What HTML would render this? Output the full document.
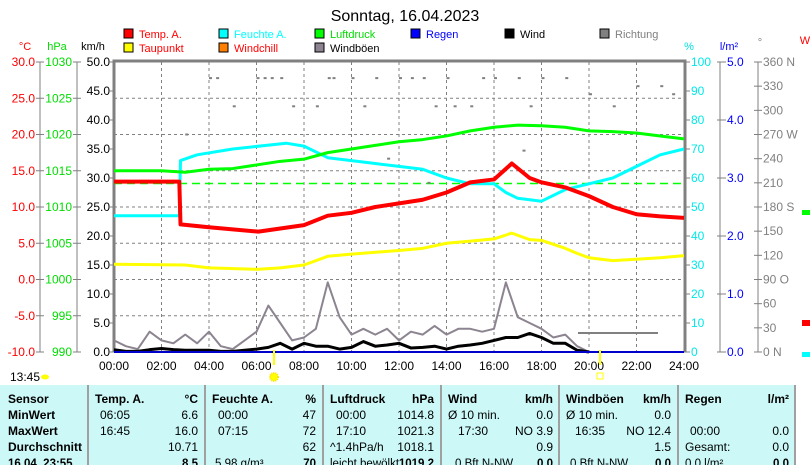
<!DOCTYPE html>
<html><head><meta charset="utf-8"><style>
body{margin:0;width:810px;height:465px;overflow:hidden;background:#fff;font-family:"Liberation Sans",sans-serif}
svg text{font-family:"Liberation Sans",sans-serif}
</style></head><body>
<svg id="c" width="810" height="465" viewBox="0 0 810 465" xmlns="http://www.w3.org/2000/svg">
<text x="405" y="21" text-anchor="middle" font-size="16">Sonntag, 16.04.2023</text>
<g id="legend"></g>
<g id="axes"></g>
<g id="grid"></g>
<g id="series"></g>
<g id="table"></g>
</svg>
<script>
const hours=[0,2.75,2.8,4,6.08,8,9,10,11,12,13,14,15,16,16.75,17.5,18,19,20,21,22,23,24];
const temp=[13.5,13.5,7.6,7.2,6.6,7.5,8.8,9.2,10,10.5,11,12,13.4,13.8,16,14,13.4,12.7,11.5,10,9,8.7,8.5];
const dewHours=[0,3,4,6,7,8,9,10,12,13,14,15,16,16.75,17.5,18,19,19.5,20,21,22,23,24];
const dew=[2.1,2,1.6,1.4,1.6,2,3.2,3.5,4,4.3,5,5.3,5.6,6.4,5.5,5.4,4.3,3.6,3,2.6,2.8,3,3.3];
const humHours=[0,2.75,2.8,3.5,5,7.25,8,9,10,11,12,13,14,15,16,16.5,17,18,19,20,21,22,23,24];
const hum=[47,47,66,68,70,72,71,67,66,65,64,63,60,58,58,55,53,52,56,58,60,64,68,70];
const presHours=[0,2,3,4,5,6,7,8,9,10,11,12,13,14,15,16,17,18,19,20,21,22,23,24];
const pres=[1015,1015,1014.8,1015.2,1015.3,1015.8,1016.3,1016.6,1017.5,1018,1018.5,1019,1019.3,1019.8,1020.5,1021,1021.3,1021.2,1021,1020.5,1020.4,1020.2,1019.8,1019.4];
const windHours=[0,0.5,1,1.5,2,2.5,3,3.5,4,4.5,5,5.5,6,6.5,7,7.5,8,8.5,9,9.5,10,10.5,11,11.5,12,12.5,13,13.5,14,14.5,15,15.5,16,16.5,17,17.5,18,18.5,19,19.5,20];
const gust=[2,1,0.5,3.5,2,1.5,3,1.5,3.5,1,0.5,2,3.5,8,5,2,2.5,4,12,6,3,4,3,4,2,3.5,3,4.5,3,4,4,3.5,4,12,6,5,4,2.5,3,1,0];
const wind=[0.4,0.1,0.1,0.4,0.6,0.4,0.3,0.3,0.3,0.1,0.1,0.3,0.5,0.8,1.5,0.5,1.5,1,1,0.5,0.8,1.8,1,1.2,1.5,0.7,0.8,1,0.5,1,1.2,1.5,2,2.5,2.5,3.2,2.5,1.5,1.5,0.3,0];
const dirHours=[4,4.3,6,6.3,6.6,7,7.5,8.5,9,9.2,10,10.5,11,12,12.5,13,13.5,14,14.3,15,15.5,16,17,17.5,18,19,20,21,22,23,23.5,3,5,11.5,13.2,15.2,17.2];
const dirDeg=[340,340,340,340,340,340,305,305,340,340,340,305,340,340,340,340,305,340,305,305,340,340,340,305,340,340,320,305,330,330,320,270,305,240,210,210,250];
const yTempTicks=["30.0","25.0","20.0","15.0","10.0","5.0","0.0","-5.0","-10.0"];
const yPresTicks=["1030","1025","1020","1015","1010","1005","1000","995","990"];
const yKmhTicks=["50.0","45.0","40.0","35.0","30.0","25.0","20.0","15.0","10.0","5.0","0.0"];
const yHumTicks=["100","90","80","70","60","50","40","30","20","10","0"];
const yRainTicks=["5.0","4.0","3.0","2.0","1.0","0.0"];
const yDirTicks=["360 N","330","300","270 W","240","210","180 S","150","120","90  O","60","30","0  N"];
const xTicks=["00:00","02:00","04:00","06:00","08:00","10:00","12:00","14:00","16:00","18:00","20:00","22:00","24:00"];

const X0=114,X1=684,Y0=62,Y1=352;
const xs=h=>X0+(X1-X0)*h/24;
const yT=v=>Y1-(v+10)/40*(Y1-Y0);
const yP=v=>Y1-(v-990)/40*(Y1-Y0);
const yK=v=>Y1-v/50*(Y1-Y0);
const yH=v=>Y1-v/100*(Y1-Y0);
const yD=v=>Y1-v/360*(Y1-Y0);
const NS="http://www.w3.org/2000/svg";
function mk(parent,tag,attrs,txt){const e=document.createElementNS(NS,tag);for(const k in attrs)e.setAttribute(k,attrs[k]);if(txt!=null)e.textContent=txt;document.getElementById(parent).appendChild(e);return e;}

const leg=[["Temp. A.","#ff0000","#ff0000",124,38],["Feuchte A.","#00ffff","#00ffff",219,38],["Luftdruck","#00ff00","#00dd00",315,38],["Regen","#0000ff","#0000ff",411,38],["Wind","#000","#000",505,38],["Richtung","#808080","#808080",600,38],["Taupunkt","#ffff00","#ff0000",124,52],["Windchill","#ff8000","#ff0000",219,52],["Windböen","#8c8490","#000",315,52]];
leg.forEach(l=>{
 const r=mk("legend","rect",{x:l[3],y:l[4]-9,width:9,height:9,fill:l[1],stroke:"#000","stroke-width":1});
 
 
 const t=mk("legend","text",{x:l[3]+15,y:l[4],"font-size":11,fill:l[2]},l[0]);
 
 
});
[["°C",25,50,"#ff0000"],["hPa",57,50,"#00dd00"],["km/h",93,50,"#000"],["%",689,50,"#00e0e0"],["l/m²",729,50,"#0000ff"],["°",760,46,"#808080"],["W",805,44,"#ff0000"]].forEach(h=>{
 const t=mk("axes","text",{x:h[1],y:h[2],"font-size":11,"text-anchor":"middle",fill:h[3]},h[0]);
 
 
});
mk("axes","line",{x1:40,y1:Y0,x2:40,y2:Y1,stroke:"#808080"});
mk("axes","line",{x1:77,y1:Y0,x2:77,y2:Y1,stroke:"#808080"});
yTempTicks.forEach((t,i)=>{const y=Y0+i*(Y1-Y0)/8;
 mk("axes","line",{x1:36,y1:y,x2:44,y2:y,stroke:"#808080"});
 const a=mk("axes","text",{x:35,y:y+4,"font-size":12,"text-anchor":"end",fill:"#ff0000"},t);
 
 
 mk("axes","line",{x1:73,y1:y,x2:81,y2:y,stroke:"#808080"});
 const b=mk("axes","text",{x:72,y:y+4,"font-size":12,"text-anchor":"end",fill:"#00dd00"},yPresTicks[i]);
 
 
});
yKmhTicks.forEach((t,i)=>{const y=Y0+i*(Y1-Y0)/10;
 mk("axes","line",{x1:110,y1:y,x2:114,y2:y,stroke:"#808080"});
 const a=mk("axes","text",{x:110,y:y+4,"font-size":12,"text-anchor":"end",fill:"#000"},t);
 
 
});
mk("axes","line",{x1:720,y1:Y0,x2:720,y2:Y1,stroke:"#808080"});
mk("axes","line",{x1:758,y1:Y0,x2:758,y2:Y1,stroke:"#808080"});
yHumTicks.forEach((t,i)=>{const y=Y0+i*(Y1-Y0)/10;
 mk("axes","line",{x1:684,y1:y,x2:690,y2:y,stroke:"#808080"});
 const a=mk("axes","text",{x:691,y:y+4,"font-size":12,fill:"#00e8e8"},t);
 
 
});
yRainTicks.forEach((t,i)=>{const y=Y0+i*(Y1-Y0)/5;
 mk("axes","line",{x1:717,y1:y,x2:726,y2:y,stroke:"#808080"});
 const a=mk("axes","text",{x:727,y:y+4,"font-size":12,fill:"#0000ff"},t);
 
 
});
yDirTicks.forEach((t,i)=>{const y=Y0+i*(Y1-Y0)/12;
 mk("axes","line",{x1:754,y1:y,x2:762,y2:y,stroke:"#808080"});
 const a=mk("axes","text",{x:763,y:y+4,"font-size":12,fill:"#808080","xml:space":"preserve"},t);
 
 
});
xTicks.forEach((t,i)=>{const x=xs(i*2);
 const a=mk("axes","text",{x:x,y:370,"font-size":12,"text-anchor":"middle",fill:"#000"},t);
 
 
});
for(let i=1;i<12;i++){mk("grid","line",{x1:xs(i*2),y1:Y0,x2:xs(i*2),y2:Y1,stroke:"#808080","stroke-dasharray":"3,3"});}
for(let i=1;i<8;i++){const y=Y0+i*(Y1-Y0)/8;mk("grid","line",{x1:X0,y1:y,x2:X1,y2:y,stroke:"#808080","stroke-dasharray":"3,3"});}
mk("grid","path",{d:`M${X0} ${Y1} V${Y0-1} H${X1+1} V${Y1}`,fill:"none",stroke:"#808080","stroke-width":3});
const sp=mk("series","line",{x1:X0,y1:yP(1013.25),x2:X1,y2:yP(1013.25),stroke:"#00ff00","stroke-width":1.5,"stroke-dasharray":"8,5"});


dirHours.forEach((h,i)=>{const d=mk("series","rect",{x:xs(h),y:yD(dirDeg[i])-1,width:3,height:2,fill:"#808080"});
 
 });
mk("series","line",{x1:578,y1:333,x2:658,y2:333,stroke:"#808080","stroke-width":2});
function poly(hs,vs,yf,color,w,name){
 const p=mk("series","polyline",{points:hs.map((h,i)=>xs(h)+","+yf(vs[i])).join(" "),fill:"none",stroke:color,"stroke-width":w,"stroke-linejoin":"round"});
 
 
}
poly(windHours,gust,yK,"#8c8490",2,"gust-line");
poly(windHours,wind,yK,"#000",3,"wind-line");
const rl=mk("series","line",{x1:X0,y1:Y1,x2:X1,y2:Y1,stroke:"#0000cc","stroke-width":2});


poly(dewHours,dew,yT,"#ffff00",3,"dewpoint-line");
poly(humHours,hum,yH,"#00ffff",3,"humidity-line");
poly(presHours,pres,yP,"#00ff00",3,"pressure-line");
poly(hours,temp,yT,"#ff0000",4,"temperature-line");
mk("series","line",{x1:274,y1:350,x2:274,y2:365,stroke:"#ffff00","stroke-width":2});
mk("series","line",{x1:600,y1:350,x2:600,y2:365,stroke:"#ffff00","stroke-width":2});
mk("series","circle",{cx:274,cy:377,r:4,fill:"#ffff00",stroke:"#ffe000","stroke-width":2,"stroke-dasharray":"1,1"});
mk("series","rect",{x:597,y:373,width:6,height:6,fill:"none",stroke:"#ffff00"});
const nt=mk("axes","text",{x:10,y:381,"font-size":12},"13:45");


mk("axes","ellipse",{cx:45,cy:377,rx:4,ry:2.5,fill:"#ffff00"});
mk("series","rect",{x:802,y:320,width:8,height:6,fill:"#ff0000"});
mk("series","rect",{x:802,y:352,width:8,height:5,fill:"#00ffff"});
mk("series","rect",{x:802,y:210,width:8,height:5,fill:"#00ff00"});
mk("table","rect",{x:0,y:385,width:796,height:80,fill:"#ccf8f8"});
[88,205,323,441,559,678,795].forEach(x=>mk("table","line",{x1:x,y1:385,x2:x,y2:465,stroke:"#a0a0a0","stroke-width":2}));
const rows=[399,415,431,447,463];
const cells=[
 [8,"start",0,"Sensor",1],[8,"start",1,"MinWert",1],[8,"start",2,"MaxWert",1],[8,"start",3,"Durchschnitt",1],[8,"start",4,"16.04. 23:55",1],
 [95,"start",0,"Temp. A.",1],[198,"end",0,"°C",1],[100,"start",1,"06:05",0],[198,"end",1,"6.6",0],[100,"start",2,"16:45",0],[198,"end",2,"16.0",0],[198,"end",3,"10.71",0],[198,"end",4,"8.5",1],
 [212,"start",0,"Feuchte A.",1],[316,"end",0,"%",1],[218,"start",1,"00:00",0],[316,"end",1,"47",0],[218,"start",2,"07:15",0],[316,"end",2,"72",0],[316,"end",3,"62",0],[215,"start",4,"5.98 g/m³",0],[316,"end",4,"70",1],
 [330,"start",0,"Luftdruck",1],[434,"end",0,"hPa",1],[336,"start",1,"00:00",0],[434,"end",1,"1014.8",0],[336,"start",2,"17:10",0],[434,"end",2,"1021.3",0],[330,"start",3,"^1.4hPa/h",0],[434,"end",3,"1018.1",0],[330,"start",4,"leicht bewölkt",0],[434,"end",4,"1019.2",1],
 [448,"start",0,"Wind",1],[553,"end",0,"km/h",1],[448,"start",1,"Ø 10 min.",0],[553,"end",1,"0.0",0],[458,"start",2,"17:30",0],[553,"end",2,"NO 3.9",0],[553,"end",3,"0.9",0],[455,"start",4,"0 Bft N-NW",0],[553,"end",4,"0.0",1],
 [566,"start",0,"Windböen",1],[671,"end",0,"km/h",1],[566,"start",1,"Ø 10 min.",0],[671,"end",1,"0.0",0],[575,"start",2,"16:35",0],[671,"end",2,"NO 12.4",0],[671,"end",3,"1.5",0],[570,"start",4,"0 Bft N-NW",0],[671,"end",4,"0.0",1],
 [685,"start",0,"Regen",1],[789,"end",0,"l/m²",1],[690,"start",2,"00:00",0],[789,"end",2,"0.0",0],[685,"start",3,"Gesamt:",0],[789,"end",3,"0.0",0],[685,"start",4,"0.0 l/m²",0],[789,"end",4,"0.0",1]
];
cells.forEach(c=>{const t=mk("table","text",{x:c[0],y:rows[c[2]]+4,"font-size":c[2]==4?11.5:12,"text-anchor":c[1],"font-weight":c[4]?"bold":"normal",fill:"#000"},c[3]);
 
 });
</script>
</body></html>
